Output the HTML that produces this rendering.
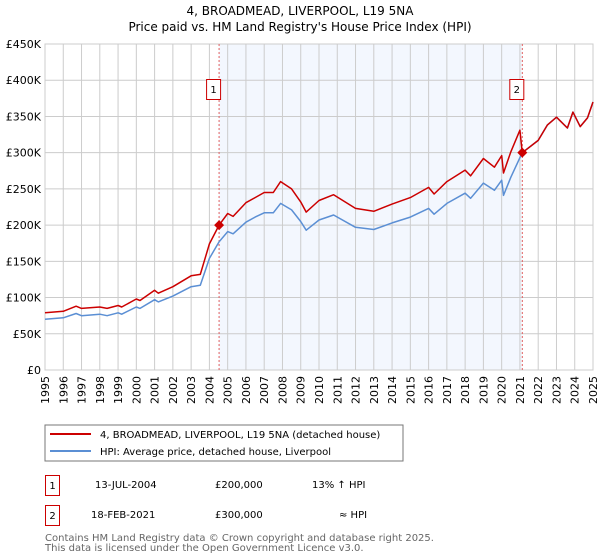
<!DOCTYPE html>
<html><head><meta charset="utf-8"><style>
body{margin:0;background:#fff;}
svg{display:block;font-family:"DejaVu Sans","Liberation Sans",sans-serif;}
</style></head><body>
<svg id="c" width="600" height="560" viewBox="0 0 600 560">
<text x="300" y="15" text-anchor="middle" font-size="12">4, BROADMEAD, LIVERPOOL, L19 5NA</text>
<text x="300" y="31" text-anchor="middle" font-size="12">Price paid vs. HM Land Registry's House Price Index (HPI)</text>
<g id="grid"></g><g id="series"></g><g id="axes"></g>
<rect x="45" y="425" width="358" height="36" fill="#fff" stroke="#777"/>
<line x1="50" y1="434" x2="91" y2="434" stroke="#cc0000" stroke-width="2"/>
<text x="100" y="438" font-size="10">4, BROADMEAD, LIVERPOOL, L19 5NA (detached house)</text>
<line x1="50" y1="451" x2="91" y2="451" stroke="#5b8fd4" stroke-width="2"/>
<text x="100" y="455" font-size="10">HPI: Average price, detached house, Liverpool</text>
<g font-size="10">
<rect x="45.5" y="475.5" width="14" height="20" fill="#fff" stroke="#cc0000"/>
<text x="52.5" y="489" text-anchor="middle">1</text>
<text x="95" y="488">13-JUL-2004</text>
<text x="215" y="488">£200,000</text>
<text x="312" y="488">13% ↑ HPI</text>
<rect x="45.5" y="505.5" width="14" height="20" fill="#fff" stroke="#cc0000"/>
<text x="52.5" y="519" text-anchor="middle">2</text>
<text x="91" y="518">18-FEB-2021</text>
<text x="215" y="518">£300,000</text>
<text x="339" y="518">≈ HPI</text>
</g>
<text x="45" y="541" font-size="10" fill="#666">Contains HM Land Registry data © Crown copyright and database right 2025.</text>
<text x="45" y="551" font-size="10" fill="#666">This data is licensed under the Open Government Licence v3.0.</text>
</svg>
<script>
const yTicks=[0,50,100,150,200,250,300,350,400,450];
const yTickLabels=["£0","£50K","£100K","£150K","£200K","£250K","£300K","£350K","£400K","£450K"];
const xTicks=[1995,1996,1997,1998,1999,2000,2001,2002,2003,2004,2005,2006,2007,2008,2009,2010,2011,2012,2013,2014,2015,2016,2017,2018,2019,2020,2021,2022,2023,2024,2025];
const hpiYears=[1995,1996,1996.7,1997,1998,1998.4,1999,1999.2,2000,2000.2,2001,2001.2,2002,2003,2003.5,2004,2004.53,2005,2005.3,2006,2006.5,2007,2007.5,2007.9,2008.5,2009,2009.3,2010,2010.8,2012,2013,2014,2015,2016,2016.3,2017,2018,2018.3,2019,2019.6,2020,2020.1,2020.5,2021.0,2021.13,2022,2022.5,2023,2023.6,2023.9,2024.3,2024.7,2025];
const hpiValues=[70,72,78,75,77,75,79,77,87,85,97,94,102,115,117,154,177,191,188,204,211,217,217,230,221,205,193,207,214,197,194,203,211,223,215,230,244,237,258,248,262,241,266,293,300,317,338,349,334,356,336,348,370];
const priceYears=[1995,1996,1996.7,1997,1998,1998.4,1999,1999.2,2000,2000.2,2001,2001.2,2002,2003,2003.5,2004,2004.53,2005,2005.3,2006,2006.5,2007,2007.5,2007.9,2008.5,2009,2009.3,2010,2010.8,2012,2013,2014,2015,2016,2016.3,2017,2018,2018.3,2019,2019.6,2020,2020.1,2020.5,2021.0,2021.13,2022,2022.5,2023,2023.6,2023.9,2024.3,2024.7,2025];
const priceValues=[79,81,88,85,87,85,89,87,98,96,110,106,115,130,132,174,200,216,212,231,238,245,245,260,250,232,218,234,242,223,219,229,238,252,243,260,276,268,292,280,296,272,301,331,300,317,338,349,334,356,336,348,370];
const saleYears=[2004.53,2021.13];
const saleValues=[200,300];
const saleLabels=["1","2"];
const X0=45,X1=593,Y0=370,Y1=44;
const xs=t=>X0+(t-1995)/(2025-1995)*(X1-X0);
const ys=v=>Y0-v/450*(Y0-Y1);
const NS="http://www.w3.org/2000/svg";
function mk(tag,attrs,parent){const e=document.createElementNS(NS,tag);for(const k in attrs)e.setAttribute(k,attrs[k]);parent.appendChild(e);return e;}
const grid=document.getElementById('grid'),ser=document.getElementById('series'),ax=document.getElementById('axes');
const shade=mk('rect',{x:xs(saleYears[0]),y:Y1,width:xs(saleYears[1])-xs(saleYears[0]),height:Y0-Y1,fill:'#eef3fd',opacity:0.7},grid);


yTicks.forEach((v,i)=>{
 const l=mk('line',{x1:X0,x2:X1,y1:ys(v),y2:ys(v),stroke:'#cccccc'},grid);
 
 
 const t=mk('text',{x:X0-4,y:ys(v)+4,'text-anchor':'end','font-size':11},ax);
 t.textContent=yTickLabels[i];
 
 
});
xTicks.forEach(y=>{
 const l=mk('line',{x1:xs(y),x2:xs(y),y1:Y1,y2:Y0,stroke:'#cccccc'},grid);
 
 
 const t=mk('text',{x:0,y:0,'text-anchor':'end','font-size':11,transform:`translate(${xs(y)+4},${Y0+6}) rotate(-90)`},ax);
 t.textContent=y;
 
 
});
const frame=mk('rect',{x:X0,y:Y1,width:X1-X0,height:Y0-Y1,fill:'none',stroke:'#cccccc'},grid);


saleYears.forEach((s,i)=>{
 const l=mk('line',{x1:xs(s),x2:xs(s),y1:Y1,y2:Y0,stroke:'#e06060','stroke-dasharray':'2,2'},ser);
 
 
});
function path(xv,yv,color,name){
 const d=xv.map((t,i)=>(i?'L':'M')+xs(t).toFixed(1)+','+ys(yv[i]).toFixed(1)).join('');
 const p=mk('path',{d:d,fill:'none',stroke:color,'stroke-width':1.5,'stroke-linejoin':'round'},ser);
 
 
}
path(hpiYears,hpiValues,'#5b8fd4','hpi-line');
path(priceYears,priceValues,'#cc0000','property-price-line');
saleYears.forEach((s,i)=>{
 const cx=xs(s),cy=ys(saleValues[i]);
 const d=mk('path',{d:`M${cx},${cy-5}L${cx+5},${cy}L${cx},${cy+5}L${cx-5},${cy}Z`,fill:'#cc0000'},ser);
 
 
 const r=mk('rect',{x:cx-12.5,y:79.5,width:14,height:20,fill:'#fff',stroke:'#cc0000'},ser);
 
 
 const t=mk('text',{x:cx-5.5,y:93,'text-anchor':'middle','font-size':10},ser);
 t.textContent=saleLabels[i];
 
 
});
</script>
</body></html>
